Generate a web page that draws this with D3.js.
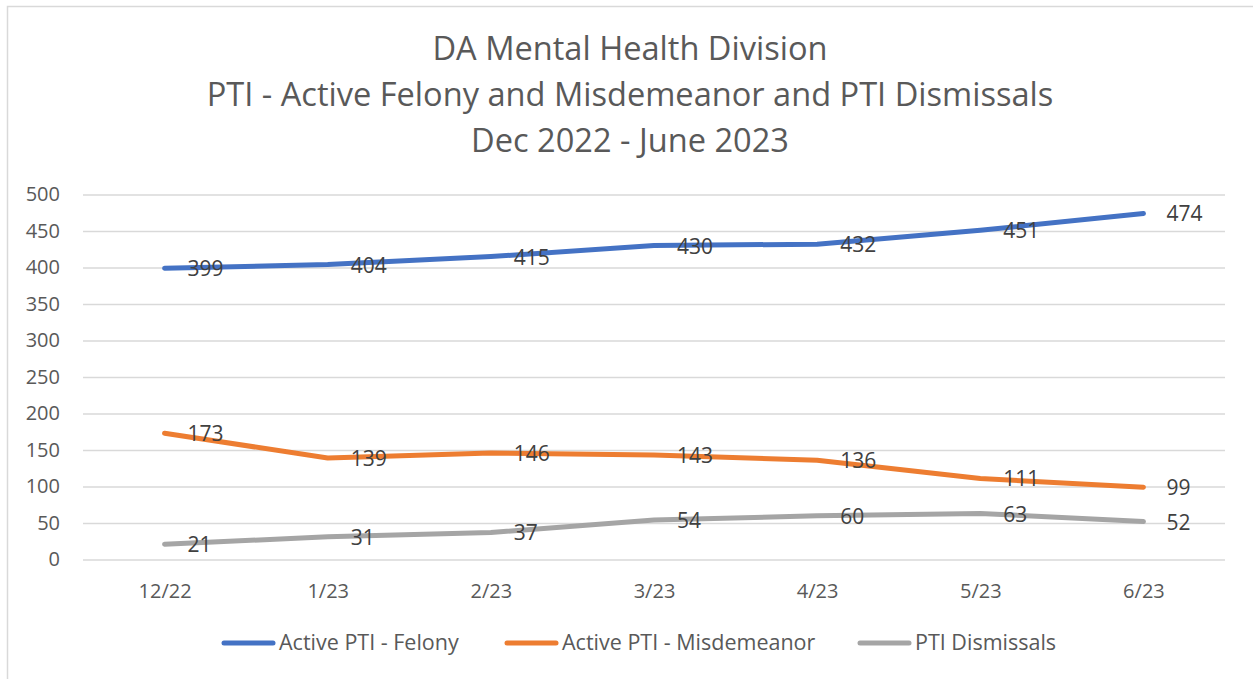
<!DOCTYPE html>
<html lang="en">
<head>
    <meta charset="UTF-8">
    <title>DA Mental Health Division</title>
    <style>
        html, body {
            margin: 0;
            padding: 0;
            background: #fff;
            font-family: "Open Sans", "Noto Sans", sans-serif;
        }
        svg { display: block; }
    </style>
</head>
<body>
    <svg id="svg" width="1253" height="679"></svg>

    <script src="https://d3js.org/d3.v7.min.js"></script>
    <script>
        // values
        const months = ['12/22', '1/23', '2/23', '3/23', '4/23', '5/23', '6/23'];
        const felony = [399, 404, 415, 430, 432, 451, 474];
        const misdemeanor = [173, 139, 146, 143, 136, 111, 99];
        const dismissals = [21, 31, 37, 54, 60, 63, 52];
        const yTicks = [0, 50, 100, 150, 200, 250, 300, 350, 400, 450, 500];
        const titleLines = [
            'DA Mental Health Division',
            'PTI - Active Felony and Misdemeanor and PTI Dismissals',
            'Dec 2022 - June 2023'
        ];

        const series = [
            { name: 'Active PTI - Felony', values: felony, color: '#4472C4' },
            { name: 'Active PTI - Misdemeanor', values: misdemeanor, color: '#ED7D31' },
            { name: 'PTI Dismissals', values: dismissals, color: '#A5A5A5' }
        ];

        const margin = { top: 194.5, right: 28, bottom: 119.5, left: 83 };
        const W = 1253, H = 679;

        const svg = d3.select('#svg');

        // chart frame
        svg.append('path')
            .attr('d', `M7.5,${H} V6.5 H${W}`)
            .attr('fill', 'none')
            .attr('stroke', '#D9D9D9')
            .attr('stroke-width', 1.5);

        // title
        svg.append('g')
            .selectAll('text')
            .data(titleLines)
            .join('text')
            .attr('x', 630)
            .attr('y', (d, i) => 60 + i * 46)
            .attr('text-anchor', 'middle')
            .style('font-size', '32.6px')
            .style('fill', '#595959')
            .text(d => d);

        const x = d3.scalePoint()
            .domain(months)
            .range([margin.left, W - margin.right])
            .padding(0.5);

        const y = d3.scaleLinear()
            .domain([0, 500])
            .range([H - margin.bottom, margin.top]);

        // gridlines + y labels
        const leftAxis = d3.axisLeft(y)
            .tickValues(yTicks)
            .tickSize(-(W - margin.right - margin.left))
            .tickPadding(23);

        svg.append('g')
            .attr('transform', `translate(${margin.left}, 0)`)
            .call(leftAxis)
            .call(g => g.select('.domain').remove())
            .call(g => g.selectAll('.tick line')
                .attr('stroke', '#D9D9D9')
                .attr('stroke-width', 1.3))
            .call(g => g.selectAll('.tick text')
                .style('font-size', '20px')
                .style('font-family', '"Open Sans", sans-serif')
                .attr('fill', '#595959'));

        // x labels
        const bottomAxis = d3.axisBottom(x).tickSize(0).tickPadding(24);
        svg.append('g')
            .attr('transform', `translate(0, ${H - margin.bottom})`)
            .call(bottomAxis)
            .call(g => g.select('.domain').remove())
            .call(g => g.selectAll('.tick text')
                .style('font-size', '20px')
                .style('font-family', '"Open Sans", sans-serif')
                .attr('fill', '#595959'));

        // lines
        const line = d3.line()
            .x((d, i) => x(months[i]))
            .y(d => y(d));

        svg.append('g')
            .selectAll('path')
            .data(series)
            .join('path')
            .attr('d', d => line(d.values))
            .attr('fill', 'none')
            .attr('stroke', d => d.color)
            .attr('stroke-width', 5)
            .attr('stroke-linecap', 'round')
            .attr('stroke-linejoin', 'round');

        // data labels, to the right of each point
        const labels = svg.append('g');
        series.forEach(s => {
            labels.append('g')
                .selectAll('text')
                .data(s.values)
                .join('text')
                .attr('x', (d, i) => x(months[i]) + 23)
                .attr('y', d => y(d) + 8)
                .style('font-size', '21px')
                .style('fill', '#404040')
                .text(d => d);
        });

        // legend
        const legendX = [222, 505, 858];
        const legend = svg.append('g')
            .selectAll('g')
            .data(series)
            .join('g')
            .attr('transform', (d, i) => `translate(${legendX[i]}, 643)`);

        legend.append('line')
            .attr('x1', 2)
            .attr('x2', 51)
            .attr('stroke', d => d.color)
            .attr('stroke-width', 5)
            .attr('stroke-linecap', 'round');

        legend.append('text')
            .attr('x', 57)
            .attr('y', 7)
            .style('font-size', '21.5px')
            .style('fill', '#595959')
            .text(d => d.name);
    </script>
</body>
</html>
